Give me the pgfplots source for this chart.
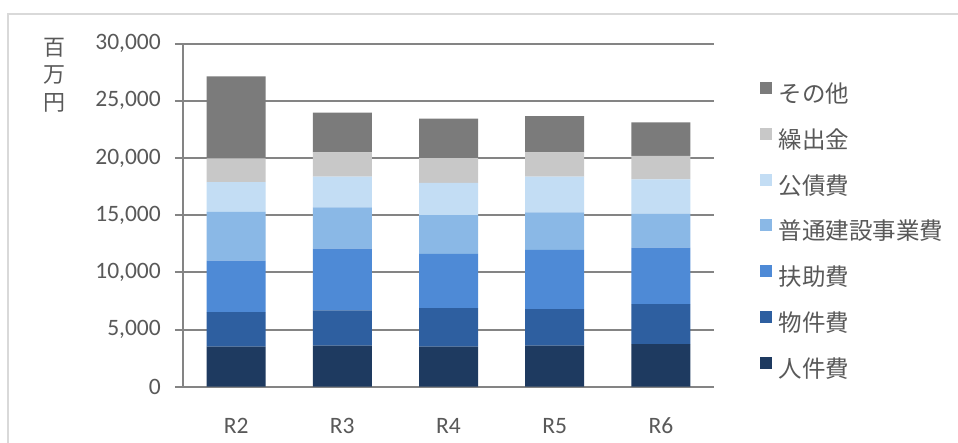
\documentclass[border=0pt]{standalone}
\usepackage{fontspec}
\setmainfont{Carlito}
\newfontfamily\jp{Noto Sans CJK JP}
\usepackage{pgfplots}
\pgfplotsset{compat=1.18}
\definecolor{cJinken}{HTML}{1E3A60}
\definecolor{cButsu}{HTML}{2E5FA0}
\definecolor{cFujo}{HTML}{4E8AD6}
\definecolor{cFutsu}{HTML}{8AB8E6}
\definecolor{cKosai}{HTML}{C3DDF4}
\definecolor{cKuri}{HTML}{C8C8C8}
\definecolor{cSonota}{HTML}{7B7B7B}
\definecolor{txt}{HTML}{595959}
\definecolor{gridc}{HTML}{848484}
\definecolor{frame}{HTML}{D9D9D9}
\begin{document}
\begin{tikzpicture}
\useasboundingbox (0,0) rectangle (958pt,443pt);
\fill[white] (0,0) rectangle (958pt,443pt);
\draw[frame, line width=2pt] (8pt,0) -- (8pt,429pt) -- (958pt,429pt);
\node[anchor=north, align=center, inner sep=0pt, text=txt,
      font=\jp\fontsize{22}{27.5}\selectfont] at (54pt,405pt) {百\\万\\円};
\begin{axis}[
  at={(183pt,56.3pt)}, anchor=south west,
  scale only axis, width=531pt, height=343pt,
  ybar stacked, bar width=59pt,
  xmin=-0.5, xmax=4.5, ymin=0, ymax=30000,
  xtick={0,1,2,3,4}, xticklabels={R2,R3,R4,R5,R6},
  ytick={0,5000,10000,15000,20000,25000,30000},
  axis x line*=bottom, axis y line*=left,
  axis line style={draw=gridc, line width=2pt, -},
  ymajorgrids, grid style={draw=gridc, line width=2pt},
  tick align=outside, major tick length=8pt,
  tick style={draw=gridc, line width=2pt},
  xtick style={draw=none},
  /pgf/number format/assume math mode=true,
  /pgf/number format/1000 sep={,},
  scaled y ticks=false,
  tick label style={text=txt, font=\fontsize{23.5}{27}\selectfont},
  xticklabel style={anchor=base, yshift=-38.5pt},
  yticklabel style={anchor=east, inner sep=0pt, xshift=-14pt},
  reverse legend,
  legend style={draw=none, fill=none, at={(1.08,0.895)}, anchor=north west,
    font=\jp\fontsize{23.5}{27}\selectfont, text=txt,
    row sep=20.3pt,
    nodes={inner sep=0pt, text height=18pt, text depth=5pt},
    /tikz/every odd column/.append style={column sep=7pt}},
  legend cell align=left,
  legend image code/.code={\fill[#1] (0pt,2pt) rectangle (12pt,14pt);},
]
\addplot[fill=cJinken, draw=none] coordinates {(0,3500) (1,3600) (2,3510) (3,3600) (4,3720)};
\addplot[fill=cButsu, draw=none] coordinates {(0,3020) (1,3070) (2,3370) (3,3190) (4,3510)};
\addplot[fill=cFujo, draw=none] coordinates {(0,4500) (1,5410) (2,4740) (3,5180) (4,4940)};
\addplot[fill=cFutsu, draw=none] coordinates {(0,4270) (1,3600) (2,3390) (3,3270) (4,2960)};
\addplot[fill=cKosai, draw=none] coordinates {(0,2600) (1,2690) (2,2810) (3,3130) (4,3010)};
\addplot[fill=cKuri, draw=none] coordinates {(0,2080) (1,2130) (2,2170) (3,2130) (4,2040)};
\addplot[fill=cSonota, draw=none] coordinates {(0,7170) (1,3480) (2,3450) (3,3160) (4,2930)};
\legend{人件費,物件費,扶助費,普通建設事業費,公債費,繰出金,その他}
\end{axis}
\end{tikzpicture}
\end{document}
